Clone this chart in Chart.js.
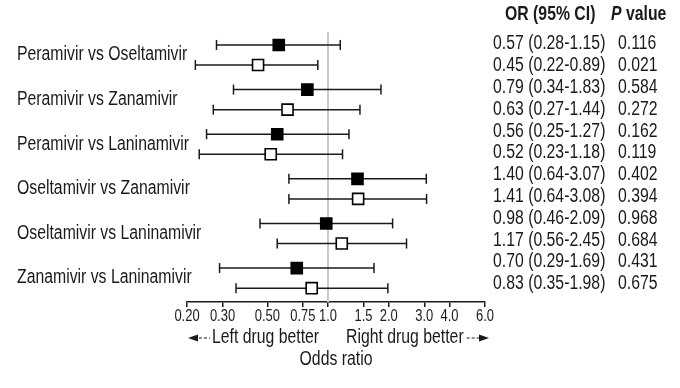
<!DOCTYPE html>
<html>
<head>
<meta charset="utf-8">
<script src="https://cdn.jsdelivr.net/npm/chart.js@4.4.1/dist/chart.umd.min.js"></script>
<style>
  html, body { margin: 0; padding: 0; background: #fff; }
  #wrap { width: 680px; height: 388px; }
</style>
</head>
<body>
<div id="wrap"><canvas id="forest"></canvas></div>
<script>
// Comparisons (each has a filled row and an open row)
const comparisons = [
  "Peramivir vs Oseltamivir",
  "Peramivir vs Zanamivir",
  "Peramivir vs Laninamivir",
  "Oseltamivir vs Zanamivir",
  "Oseltamivir vs Laninamivir",
  "Zanamivir vs Laninamivir",
];

// 12 rows: filled, open, filled, open ...
const oddsRatios = [0.57, 0.45, 0.79, 0.63, 0.56, 0.52, 1.40, 1.41, 0.98, 1.17, 0.70, 0.83];
const ciLower    = [0.28, 0.22, 0.34, 0.27, 0.25, 0.23, 0.64, 0.64, 0.46, 0.56, 0.29, 0.35];
const ciUpper    = [1.15, 0.89, 1.83, 1.44, 1.27, 1.18, 3.07, 3.08, 2.09, 2.45, 1.69, 1.98];
const pValues    = ["0.116", "0.021", "0.584", "0.272", "0.162", "0.119",
                    "0.402", "0.394", "0.968", "0.684", "0.431", "0.675"];

const tickValues = [0.2, 0.3, 0.5, 0.75, 1.0, 1.5, 2.0, 3.0, 4.0, 6.0];
const tickLabels = ["0.20", "0.30", "0.50", "0.75", "1.0", "1.5", "2.0", "3.0", "4.0", "6.0"];

const FONT = "'Liberation Sans', Arial, sans-serif";
const SQUEEZE = 0.81; // the figure uses a narrow face; squash regular glyphs to match
const INK = "#1a1a1a";
const Y_MIN = -0.29;
const Y_MAX = 5.76;

Chart.defaults.font.family = FONT;
Chart.defaults.color = INK;

// vertical slot of a row: pair members sit 0.45 apart
const rowPos = (k) => Math.floor(k / 2) + (k % 2) * 0.45;

const ciSets = oddsRatios.map((_, k) => ({
  type: "scatter",
  order: 2,
  data: [{ x: ciLower[k], y: rowPos(k) }, { x: ciUpper[k], y: rowPos(k) }],
  showLine: true,
  borderColor: INK,
  borderWidth: 1.5,
  pointStyle: "line",
  rotation: 90,
  pointRadius: 5,
  pointBorderWidth: 1.5,
  pointBorderColor: INK,
}));

const markerSet = {
  type: "scatter",
  order: 0,
  data: oddsRatios.map((v, k) => ({ x: v, y: rowPos(k) })),
  pointStyle: "rect",
  pointRadius: 7.8,
  pointBackgroundColor: oddsRatios.map((_, k) => (k % 2 ? "#fff" : "#000")),
  pointBorderColor: "#000",
  pointBorderWidth: 1.6,
};

const refSet = {
  type: "scatter",
  order: 3,
  data: [{ x: 1, y: Y_MIN }, { x: 1, y: Y_MAX }],
  showLine: true,
  borderColor: "#cacaca",
  borderWidth: 2,
  pointRadius: 0,
};

// text drawn horizontally condensed; returns drawn width
function narrowText(ctx, text, x, y, font, align = "left") {
  ctx.save();
  ctx.font = font;
  const w = ctx.measureText(text).width * SQUEEZE;
  let x0 = x;
  if (align === "center") x0 = x - w / 2;
  else if (align === "right") x0 = x - w;
  ctx.translate(x0, y);
  ctx.scale(SQUEEZE, 1);
  ctx.textAlign = "left";
  ctx.textBaseline = "middle";
  ctx.fillText(text, 0, 0);
  ctx.restore();
  return w;
}

function arrowHead(ctx, tipX, y, dir) {
  ctx.beginPath();
  ctx.moveTo(tipX, y);
  ctx.lineTo(tipX - dir * 10, y - 3.5);
  ctx.lineTo(tipX - dir * 10, y + 3.5);
  ctx.closePath();
  ctx.fill();
}

function dashes(ctx, x0, x1, y) {
  ctx.save();
  ctx.lineWidth = 1.2;
  ctx.setLineDash([3, 2]);
  ctx.beginPath();
  ctx.moveTo(x0, y);
  ctx.lineTo(x1, y);
  ctx.stroke();
  ctx.restore();
}

const annotate = {
  id: "annotate",
  afterDraw(chart) {
    const { ctx, chartArea, scales: { x, y } } = chart;
    ctx.save();
    ctx.fillStyle = INK;
    ctx.strokeStyle = INK;

    const body = `19.5px ${FONT}`;
    const bold = `bold 19.5px ${FONT}`;

    // comparison labels
    comparisons.forEach((c, g) => narrowText(ctx, c, 17, y.getPixelForValue(g + 0.225), body));

    // header
    const headY = chartArea.top - 17;
    narrowText(ctx, "OR (95% CI)", 505, headY, bold);
    const pw = narrowText(ctx, "P ", 611, headY, `italic bold 19.5px ${FONT}`);
    narrowText(ctx, "value", 611 + pw, headY, bold);

    // OR / CI and P value columns
    oddsRatios.forEach((v, k) => {
      const ty = chartArea.top + 12 + k * 21.8;
      const txt = `${v.toFixed(2)} (${ciLower[k].toFixed(2)}-${ciUpper[k].toFixed(2)})`;
      narrowText(ctx, txt, 493, ty, body);
      narrowText(ctx, pValues[k], 618, ty, body);
    });

    // tick labels
    tickValues.forEach((v, i) => {
      narrowText(ctx, tickLabels[i], x.getPixelForValue(v), x.top + 15, `16px ${FONT}`, "center");
    });

    // direction captions
    const capY = x.top + 36;
    arrowHead(ctx, 188, capY, -1);
    dashes(ctx, 199, 210, capY);
    narrowText(ctx, "Left drug better", 212, capY, body);
    const rw = narrowText(ctx, "Right drug better", 346, capY, body);
    dashes(ctx, 346 + rw + 3, 479, capY);
    arrowHead(ctx, 489, capY, 1);

    narrowText(ctx, "Odds ratio", (x.left + x.right) / 2, x.top + 58, body, "center");
    ctx.restore();
  },
};

new Chart(document.getElementById("forest"), {
  type: "scatter",
  data: { datasets: [markerSet, ...ciSets, refSet] },
  options: {
    responsive: true,
    maintainAspectRatio: false,
    animation: false,
    events: [],
    layout: { padding: { left: 187, right: 195, top: 32, bottom: 0 } },
    plugins: { legend: { display: false }, tooltip: { enabled: false } },
    scales: {
      x: {
        type: "logarithmic",
        min: 0.2,
        max: 6.0,
        afterBuildTicks: (scale) => {
          scale.ticks = tickValues.map((v) => ({ value: v }));
        },
        afterFit: (scale) => {
          scale.height = 86;
        },
        grid: {
          display: true,
          drawOnChartArea: false,
          drawTicks: true,
          tickLength: 5,
          color: INK,
          lineWidth: 1.5,
        },
        border: { display: true, color: INK, width: 1.5 },
        ticks: { display: false },
      },
      y: {
        type: "linear",
        display: false,
        reverse: true,
        min: Y_MIN,
        max: Y_MAX,
      },
    },
  },
  plugins: [annotate],
});
</script>
</body>
</html>
